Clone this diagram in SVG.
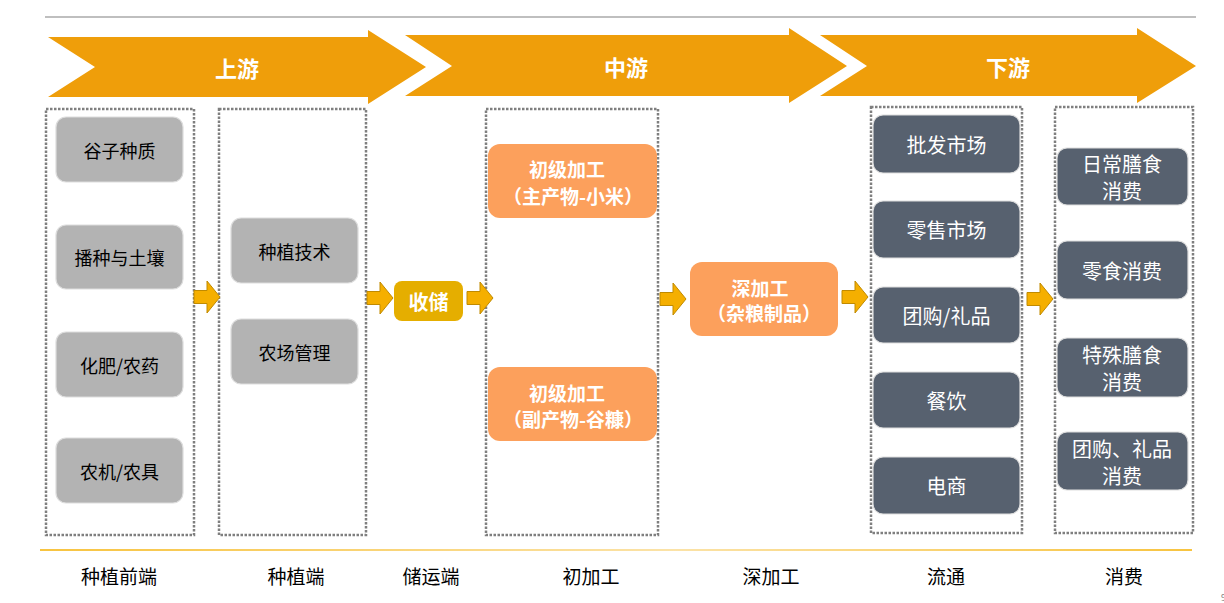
<svg xmlns="http://www.w3.org/2000/svg" xmlns:xlink="http://www.w3.org/1999/xlink" width="1224" height="603" viewBox="0 0 1224 603">
<defs>
<linearGradient id="gl" gradientUnits="userSpaceOnUse" x1="40" y1="0" x2="1192" y2="0">
<stop offset="0" stop-color="#F5B000"/>
<stop offset="0.55" stop-color="#FAD98A"/>
<stop offset="1" stop-color="#F5B000"/>
</linearGradient>
<path id="sa" d="M0,-6.5 H13 V-16 L26,0 L13,16 V6.5 H0 Z"/>
</defs>
<style>
text{font-family:"Noto Sans CJK SC","Microsoft YaHei",sans-serif;text-anchor:middle;dominant-baseline:central}
.chev{fill:#EF9E0A}
.hd{fill:#fff;font-size:22px;font-weight:bold}
.col{fill:none;stroke:#7F7F7F;stroke-width:2.5;stroke-dasharray:2.5 1.5}
.gb{fill:#B3B3B3;stroke:#DDDDDD;stroke-width:1.2}
.gt{fill:#000;font-size:18px}
.db{fill:#57616F;stroke:#DDDDDD;stroke-width:1.2}
.dt{fill:#fff;font-size:20px}
.ob{fill:#FCA05C}
.ot{fill:#fff;font-size:19px;font-weight:bold}
.sa{fill:#F5AF00;stroke:#C08A00;stroke-width:1}
.bl{fill:#000;font-size:19px}
</style>
<line x1="45" y1="17" x2="1196" y2="17" stroke="#808080" stroke-width="1.2"/>
<g id="stage-upstream">
<polygon class="chev" points="48,37 368,37 368,30 426,67 368,104 368,97 48,97 95,67"/>
<text class="hd" x="237" y="67">上游</text>
</g>
<g id="stage-midstream">
<polygon class="chev" points="405,35 789,35 789,28 847,66 789,103 789,96 405,96 452,66"/>
<text class="hd" x="626" y="66">中游</text>
</g>
<g id="stage-downstream">
<polygon class="chev" points="820,35 1137,35 1137,28 1196,66 1137,103 1137,96 820,96 867,66"/>
<text class="hd" x="1008" y="66">下游</text>
</g>
<g id="col-planting-front">
<rect class="col" x="46" y="109" width="148" height="426"/>
<g id="n-seed"><rect class="gb" x="56" y="117" width="127" height="65" rx="10"/><text class="gt" x="119.5" y="149.5">谷子种质</text></g>
<g id="n-sow"><rect class="gb" x="56" y="225" width="127" height="64" rx="10"/><text class="gt" x="119.5" y="257">播种与土壤</text></g>
<g id="n-fert"><rect class="gb" x="56" y="332" width="127" height="65" rx="10"/><text class="gt" x="119.5" y="364.5">化肥/农药</text></g>
<g id="n-mach"><rect class="gb" x="56" y="438" width="127" height="65" rx="10"/><text class="gt" x="119.5" y="470.5">农机/农具</text></g>
</g>
<g id="col-planting">
<rect class="col" x="219" y="109" width="147" height="426"/>
<g id="n-tech"><rect class="gb" x="231" y="218" width="127" height="65" rx="10"/><text class="gt" x="294.5" y="250.5">种植技术</text></g>
<g id="n-farm"><rect class="gb" x="231" y="319" width="127" height="65" rx="10"/><text class="gt" x="294.5" y="351.5">农场管理</text></g>
</g>
<g id="n-storage">
<rect x="394" y="281" width="69" height="40" rx="8" fill="#E5AE00"/>
<text x="428.5" y="301" style="fill:#fff;font-size:20px;font-weight:bold">收储</text>
</g>
<g id="col-primary">
<rect class="col" x="486" y="109" width="172" height="426"/>
<g id="n-primary-main"><rect class="ob" x="488" y="144" width="169" height="74" rx="12"/><text class="ot"><tspan x="567" y="168">初级加工</tspan><tspan x="573" y="195">（主产物-小米）</tspan></text></g>
<g id="n-primary-by"><rect class="ob" x="488" y="367" width="169" height="74" rx="12"/><text class="ot"><tspan x="567" y="392">初级加工</tspan><tspan x="573" y="418">（副产物-谷糠）</tspan></text></g>
</g>
<g id="n-deep">
<rect class="ob" x="690" y="262" width="148" height="74" rx="12"/>
<text class="ot"><tspan x="760" y="287">深加工</tspan><tspan x="764" y="312">（杂粮制品）</tspan></text>
</g>
<g id="col-circulation">
<rect class="col" x="871" y="107" width="151" height="426"/>
<g id="n-wholesale"><rect class="db" x="873" y="115" width="147" height="58" rx="10"/><text class="dt" x="946.5" y="144">批发市场</text></g>
<g id="n-retail"><rect class="db" x="873" y="201" width="147" height="57" rx="10"/><text class="dt" x="946.5" y="229.5">零售市场</text></g>
<g id="n-group"><rect class="db" x="873" y="287" width="147" height="56" rx="10"/><text class="dt" x="946.5" y="315">团购/礼品</text></g>
<g id="n-catering"><rect class="db" x="873" y="372" width="147" height="56" rx="10"/><text class="dt" x="946.5" y="400">餐饮</text></g>
<g id="n-ecom"><rect class="db" x="873" y="457" width="147" height="57" rx="10"/><text class="dt" x="946.5" y="485.5">电商</text></g>
</g>
<g id="col-consumption">
<rect class="col" x="1055" y="107" width="138" height="426"/>
<g id="n-daily"><rect class="db" x="1057" y="148" width="131" height="57" rx="10"/><text class="dt"><tspan x="1122" y="163">日常膳食</tspan><tspan x="1122" y="190">消费</tspan></text></g>
<g id="n-snack"><rect class="db" x="1057" y="241" width="131" height="58" rx="10"/><text class="dt" x="1122" y="270">零食消费</text></g>
<g id="n-special"><rect class="db" x="1057" y="338" width="131" height="59" rx="10"/><text class="dt"><tspan x="1122" y="354">特殊膳食</tspan><tspan x="1122" y="381">消费</tspan></text></g>
<g id="n-gift"><rect class="db" x="1057" y="432" width="131" height="58" rx="10"/><text class="dt"><tspan x="1122" y="447.5">团购、礼品</tspan><tspan x="1122" y="474.5">消费</tspan></text></g>
</g>
<g id="connectors">
<use xlink:href="#sa" class="sa" x="194" y="297"/>
<use xlink:href="#sa" class="sa" x="367" y="298"/>
<use xlink:href="#sa" class="sa" x="467" y="298"/>
<use xlink:href="#sa" class="sa" x="660" y="299"/>
<use xlink:href="#sa" class="sa" x="842" y="297"/>
<use xlink:href="#sa" class="sa" x="1027" y="299"/>
</g>
<line x1="40" y1="550" x2="1192" y2="550" stroke="url(#gl)" stroke-width="1.5"/>
<g id="bottom-labels">
<text class="bl" x="119" y="575">种植前端</text>
<text class="bl" x="296" y="575">种植端</text>
<text class="bl" x="431" y="575">储运端</text>
<text class="bl" x="591" y="575">初加工</text>
<text class="bl" x="771" y="575">深加工</text>
<text class="bl" x="946" y="575">流通</text>
<text class="bl" x="1124" y="575">消费</text>
</g>
<text x="1221" y="597" style="fill:#808080;font-size:9px;text-anchor:start">9</text>
</svg>
